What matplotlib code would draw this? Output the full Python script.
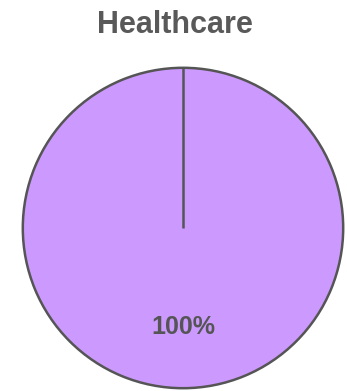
import numpy as np
import matplotlib.pyplot as plt

title = 'Healthcare'
labels = ['Healthcare']
values = [100]
colors = ['#cc99ff']

plt.rcParams['font.family'] = ['Liberation Sans', 'DejaVu Sans']

fig = plt.figure(figsize=(3.47, 3.91), dpi=100)
ax = fig.add_axes([22 / 347, 2 / 391, 322 / 347, 322 / 391])

wedges, texts, autotexts = ax.pie(
    values, colors=colors, startangle=90, counterclock=False,
    autopct='%1.0f%%', pctdistance=0.62,
    wedgeprops=dict(edgecolor='#555555', linewidth=1.8),
    textprops=dict(color='#555555', fontsize=18, fontweight='bold'))
ax.set_xlim(-1.005, 1.005)
ax.set_ylim(-1.005, 1.005)
ax.set_aspect('equal')
for w in wedges:
    w.set_clip_on(False)
    # full-circle wedge loses its radial edge, draw it back
    cx, cy = w.center
    a = np.deg2rad(w.theta1)
    ax.plot([cx, cx + w.r * np.cos(a)], [cy, cy + w.r * np.sin(a)],
            color='#555555', linewidth=1.8, solid_capstyle='butt', zorder=3)
for t in autotexts:
    t.set_zorder(4)

fig.text(0.505, 1 - 33 / 391, title, ha='center', va='baseline',
         fontsize=22, fontweight='bold', color='#595959')

fig.savefig('out.png', dpi=100)
